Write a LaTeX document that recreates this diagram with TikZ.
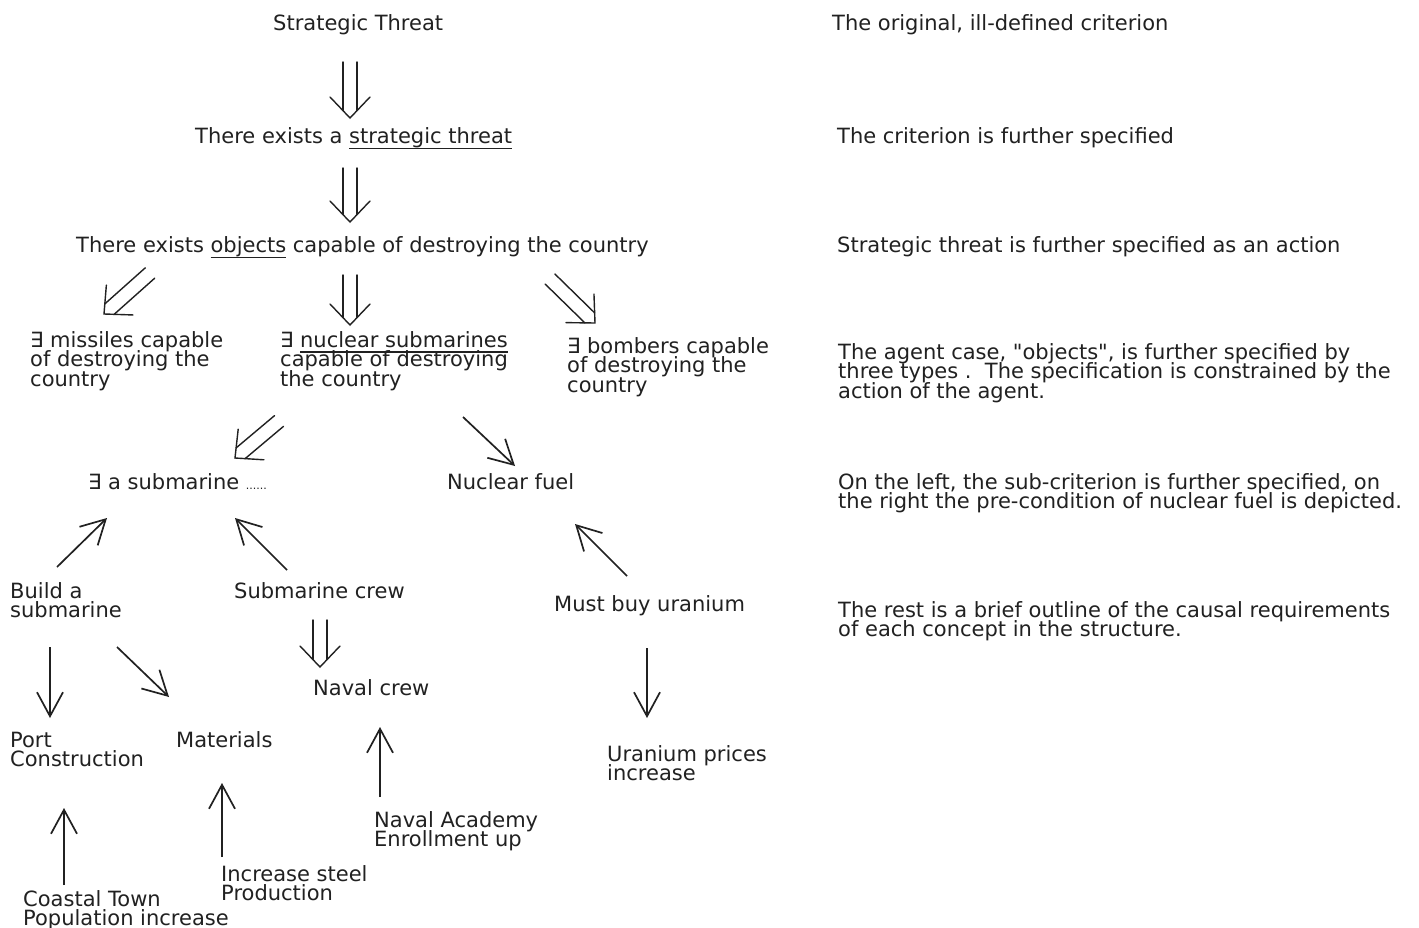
\documentclass[tikz,border=0pt]{standalone}
\usepackage{fontspec}
\setmainfont{DejaVu Sans}
% same face without TeX ligature mapping, for straight quotes
\newfontfamily\rawfont{DejaVu Sans}
\usetikzlibrary{arrows.meta,calc}
\definecolor{ink}{gray}{0.13}

% underline set a few points under the baseline, through the descenders
\newcommand\ulined[1]{\setbox0=\hbox{#1}\rlap{\rule[-5.5pt]{\wd0}{1.4pt}}\box0\relax}
% left-aligned multi-line block whose baseline is that of its first line
\newcommand\mltext[1]{\vtop{\lineskiplimit=-100pt\baselineskip=19.5pt\halign{##\hfil\cr#1\crcr}}}
% straight double quote
\newcommand\dq{{\rawfont"}}
% hollow double arrow (two parallel shafts ending in an open V head)
\newcommand\dblarrow[2]{%
  \coordinate (dS) at (#1);
  \coordinate (dE) at (#2);
  \coordinate (dC) at ($(dE)!7.5pt!(dS)$);
  \coordinate (dB) at ($(dE)!21pt!(dS)$);
  \draw[dbl] ($(dS)!7pt!90:(dE)$) -- ($(dC)!7pt!90:(dE)$);
  \draw[dbl] ($(dS)!7pt!-90:(dE)$) -- ($(dC)!7pt!-90:(dE)$);
  \draw[dbl] ($(dB)!20pt!90:(dE)$) -- (dE) -- ($(dB)!20pt!-90:(dE)$);
}

\begin{document}
\begin{tikzpicture}[x=1pt,y=-1pt,
  lbl/.style={anchor=base west,inner sep=0pt,text=ink,font=\fontsize{21}{19.5}\selectfont},
  arr/.style={draw=ink,line width=1.7pt,-{Straight Barb[length=24pt,width=26pt,line width=1.7pt]}},
  dbl/.style={draw=ink,line width=1.4pt,line cap=round,line join=miter}]
\useasboundingbox (0,0) rectangle (1419,928);
\fill[white] (0,0) rectangle (1419,928);

% ---- concept structure ----
\node[lbl] (st)    at (273,31)  {Strategic Threat};
\node[lbl] (ex1)   at (195,144) {There exists a \ulined{strategic threat}};
\node[lbl] (ex2)   at (76,253)  {There exists \ulined{objects} capable of destroying the country};
\node[lbl] (mis)   at (30,347)  {\mltext{∃ missiles capable\cr of destroying the\cr country}};
\node[lbl] (nsub)  at (280,347) {\mltext{∃ \ulined{nuclear submarines}\cr capable of destroying\cr the country}};
\node[lbl] (bomb)  at (567,353) {\mltext{∃ bombers capable\cr of destroying the\cr country}};
\node[lbl] (asub)  at (88,489)  {∃ a submarine {\fontsize{11}{11}\selectfont ......}};
\node[lbl] (fuel)  at (447,489) {Nuclear fuel};
\node[lbl] (build) at (10,598)  {\mltext{Build a\cr submarine}};
\node[lbl] (crew)  at (234,598) {Submarine crew};
\node[lbl] (buy)   at (554,611) {Must buy uranium};
\node[lbl] (naval) at (313,695) {Naval crew};
\node[lbl] (port)  at (10,747)  {\mltext{Port\cr Construction}};
\node[lbl] (mat)   at (176,747) {Materials};
\node[lbl] (price) at (607,761) {\mltext{Uranium prices\cr increase}};
\node[lbl] (acad)  at (374,827) {\mltext{Naval Academy\cr Enrollment up}};
\node[lbl] (steel) at (221,881) {\mltext{Increase steel\cr Production}};
\node[lbl] (coast) at (23,906)  {\mltext{Coastal Town\cr Population increase}};

% ---- commentary column ----
\node[lbl] (c1) at (832,31)  {The original, ill-defined criterion};
\node[lbl] (c2) at (837,144) {The criterion is further specified};
\node[lbl] (c3) at (837,253) {Strategic threat is further specified as an action};
\node[lbl] (c4) at (838,359) {\mltext{The agent case, \dq objects\dq, is further specified by\cr three types .\ \ The specification is constrained by the\cr action of the agent.}};
\node[lbl] (c5) at (838,489) {\mltext{On the left, the sub-criterion is further specified, on\cr the right the pre-condition of nuclear fuel is depicted.}};
\node[lbl] (c6) at (838,617) {\mltext{The rest is a brief outline of the causal requirements\cr of each concept in the structure.}};

% ---- specification (double) arrows ----
\dblarrow{$(st.base west)+(77,31)$}{$(ex1.base west)+(155,-26)$}
\dblarrow{$(ex1.base west)+(155,24)$}{$(ex2.base west)+(274,-31)$}
\dblarrow{$(ex2.base west)+(74,20)$}{$(mis.base west)+(74,-33)$}
\dblarrow{$(ex2.base west)+(274,22)$}{$(nsub.base west)+(70,-22)$}
\dblarrow{$(ex2.base west)+(474,26)$}{$(bomb.base west)+(28,-30)$}
\dblarrow{$(nsub.base west)+(-1,74)$}{$(asub.base west)+(147,-31)$}
\dblarrow{$(crew.base west)+(86,22)$}{$(naval.base west)+(7,-28)$}

% ---- causal (single) arrows ----
\draw[arr] ($(nsub.base west)+(183,70)$) -- ($(fuel.base west)+(68,-23)$);
\draw[arr] ($(build.base west)+(47,-31)$) -- ($(asub.base west)+(19,29)$);
\draw[arr] ($(crew.base west)+(53,-28)$) -- ($(asub.base west)+(147,29)$);
\draw[arr] ($(buy.base west)+(73,-35)$) -- ($(fuel.base west)+(128,35)$);
\draw[arr] ($(build.base west)+(40,49)$) -- ($(port.base west)+(40,-29)$);
\draw[arr] ($(build.base west)+(107,49)$) -- ($(mat.base west)+(-7,-50)$);
\draw[arr] ($(acad.base west)+(6,-30)$) -- ($(naval.base west)+(67,32)$);
\draw[arr] ($(buy.base west)+(93,37)$) -- ($(price.base west)+(40,-43)$);
\draw[arr] ($(coast.base west)+(41,-21)$) -- ($(port.base west)+(54,61)$);
\draw[arr] ($(steel.base west)+(1,-24)$) -- ($(mat.base west)+(46,36)$);
\end{tikzpicture}
\end{document}
